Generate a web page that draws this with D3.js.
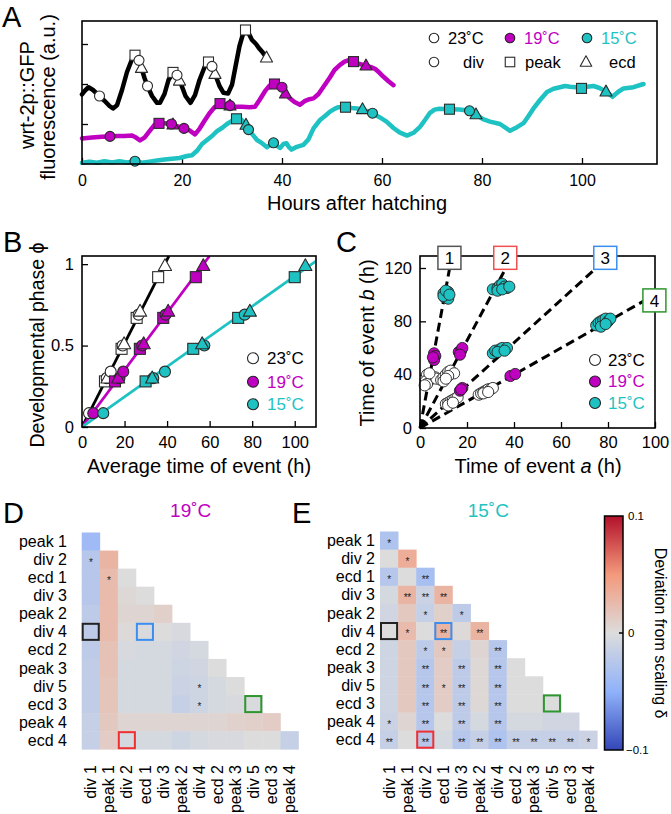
<!DOCTYPE html>
<html><head><meta charset="utf-8">
<script src="https://cdn.jsdelivr.net/npm/d3@7"></script>
<style>
body{margin:0;background:#fff;}
svg{font-family:"Liberation Sans", Arial, Helvetica, sans-serif;}
</style></head><body>
<svg id="fig" width="671" height="814"></svg>
<script>
// ================= DATA =================
const events = ["div 1","peak 1","div 2","ecd 1","div 3","peak 2","div 4","ecd 2","peak 3","div 5","ecd 3","peak 4","ecd 4"];
const temps = ["23˚C","19˚C","15˚C"];

// Panel A traces [hours, fluorescence a.u.]
const trace23 = [[0,1.74],[0.5,1.82],[1.3,1.92],[2.2,1.85],[3.5,1.7],[4.5,1.58],[5.5,1.45],[6.2,1.39],[7,1.47],[8,1.85],[9,2.3],[10,2.62],[10.6,2.72],[11.3,2.63],[11.9,2.4],[12.5,2.15],[13.1,1.95],[14,1.7],[15,1.53],[15.6,1.53],[16.5,1.75],[17.3,2.1],[18.2,2.29],[19,2.22],[19.8,2.0],[20.7,1.7],[21.7,1.53],[22.6,1.72],[23.5,2.1],[24.5,2.42],[25.3,2.55],[26,2.44],[26.6,2.25],[27.5,1.95],[28.3,1.78],[29.2,1.76],[30,1.98],[30.8,2.5],[31.5,2.95],[32.2,3.25],[32.7,3.35],[33.4,3.25],[34,3.1],[34.8,3.0],[35.5,2.88],[36.2,2.78],[36.9,2.66]];
const trace19 = [[0,0.64],[2,0.66],[4,0.68],[5.6,0.69],[7,0.7],[8.5,0.7],[10,0.71],[10.8,0.66],[11.6,0.59],[12.5,0.66],[13.5,0.82],[14.5,0.98],[15.5,1.02],[16.5,1.02],[17.9,1.0],[19,0.95],[20.4,0.89],[21.5,0.84],[22.6,0.74],[23.5,0.88],[24.5,1.08],[25.5,1.27],[26.5,1.42],[27.6,1.51],[28.6,1.49],[29.6,1.46],[30.5,1.43],[32,1.43],[33.5,1.42],[34.6,1.43],[35.5,1.6],[36.6,1.82],[37.5,1.96],[38.5,2.0],[39.3,1.97],[40,1.92],[40.7,1.76],[41.5,1.65],[42.5,1.55],[43.6,1.48],[44.5,1.57],[45.5,1.62],[46.3,1.64],[47.3,1.75],[48.3,1.93],[49.5,2.15],[50.5,2.35],[51.6,2.48],[52.5,2.56],[53.5,2.6],[54.3,2.56],[55.5,2.5],[56.8,2.46],[57.8,2.42],[58.6,2.38],[59.5,2.28],[60.3,2.18],[61.3,2.07],[62.3,1.97]];
const trace15 = [[0,0.03],[1.5,0.06],[3,0.03],[4.5,0.07],[6,0.04],[7.5,0.07],[9,0.04],[10.6,0.07],[12,0.03],[13.5,0.06],[15,0.09],[16.5,0.11],[18,0.13],[19.5,0.15],[21,0.2],[22,0.22],[23,0.33],[24,0.5],[25,0.6],[26,0.7],[27,0.82],[28,0.9],[29,1.0],[30,1.08],[30.9,1.13],[31.8,1.12],[32.8,0.98],[33.3,0.86],[34.2,0.72],[35,0.6],[36,0.52],[37,0.42],[37.8,0.5],[38.3,0.53],[39,0.45],[39.6,0.4],[40.3,0.5],[40.9,0.52],[41.4,0.42],[41.9,0.36],[42.8,0.42],[44.3,0.48],[45.3,0.62],[46.3,0.89],[47.6,1.1],[48.6,1.2],[49.6,1.31],[50.5,1.38],[51.3,1.42],[52.7,1.42],[54,1.4],[55,1.39],[56.1,1.37],[57,1.32],[58.1,1.27],[59.5,1.17],[60.9,1.06],[62.3,0.9],[63.5,0.79],[65,0.71],[66.3,0.78],[67.6,0.93],[68.6,1.1],[69.6,1.28],[70.5,1.36],[71.5,1.38],[73.5,1.37],[75.5,1.36],[77.5,1.33],[78.8,1.24],[80.2,1.12],[81.6,1.06],[83.6,1.0],[85.6,0.83],[87,0.92],[88.3,1.02],[89.3,1.2],[90.3,1.39],[91.6,1.6],[93,1.8],[94.3,1.88],[95.6,1.92],[96.6,1.95],[97.6,1.93],[98.8,1.92],[99.9,1.89],[101,1.93],[102.3,1.95],[103.5,1.9],[104.8,1.81],[106.1,1.68],[107.2,1.8],[108.3,1.89],[110.3,1.92],[112.3,2.0]];
// Panel A event times (h), in order of `events`
const markA23 = [3.5,10.6,11.4,11.9,13.1,18.2,19.0,19.5,25.3,26.0,26.6,32.7,36.9];
const markA19 = [5.6,15.4,17.9,18.2,20.4,27.6,29.6,29.6,38.5,40.0,40.7,54.3,56.8];
const markA15 = [10.6,30.9,33.3,32.8,38.3,52.7,58.1,56.1,73.5,77.5,78.8,99.9,104.8];

// Panel B: developmental phase of each event and average event times
const phase = [0.085,0.28,0.30,0.30,0.34,0.48,0.50,0.51,0.67,0.69,0.71,0.92,0.99];
const avgT23 = [3.3,10.8,11.6,12.0,13.5,18.6,19.1,19.8,25.7,26.6,27.3,35.8,39.0];
const avgT19 = [5.3,15.5,17.6,17.0,19.4,27.2,28.3,29.0,38.2,39.3,40.5,53.5,57.0];
const avgT15 = [10.0,29.9,33.5,33.0,39.0,52.3,57.5,56.5,73.4,76.5,78.9,100.0,105.0];
const fitPeriod = [38.9,57.1,108];

// Panel C: pairs [time a, time b]
const c23 = [[3,40],[4,38],[5,37],[6.5,38],[2.5,35],[3,33],[2,32],[7,37],[4,41],[9,36],[10,38],[11,40],[12,42],[13,43],[14.5,41],[10,35],[12,39],[11,37],[11,18],[12,19],[13,20],[14,21],[15,22],[16,23],[12,17],[14,19],[25,25],[26,26],[27,27],[28,28],[29,29],[30,29],[31,30],[27,26],[29,27]];
const c19 = [[6,56],[6.5,54],[6,51],[5.5,53],[16.5,57],[17.5,58],[18,60],[17,55],[17,28],[18,30],[17.5,29],[38.5,39],[40.5,40.5]];
const c15 = [[10,101],[11,100],[12,102],[10.5,98],[11.5,99],[12,97],[10,99],[11,103],[12.5,100],[31,104],[33,105],[34,107],[35,108],[36,106],[37,105],[33,103],[35,104],[38,106],[31,56],[32,58],[34,59],[35,60],[37,60],[33,57],[36,58],[75,77],[76,79],[77,80],[78,81],[79,82],[80,80],[81,82],[77,76],[79,78]];
const cSlopes = [9.5,3.28,1.6,1.0];
const cLabels = ["1","2","3","4"];

// Panels D/E: deviation from scaling (rows: events[1..12], cols: events[0..11])
const devD = [
 [-0.04],
 [-0.025,0.03],
 [-0.025,0.025,0.0],
 [-0.025,0.025,0.003,0.0],
 [-0.02,0.025,0.005,0.005,0.01],
 [-0.02,0.025,0.002,-0.002,0.0,-0.003],
 [-0.02,0.02,-0.003,-0.005,-0.005,-0.008,-0.005],
 [-0.018,0.02,-0.005,-0.005,-0.005,-0.01,-0.008,0.0],
 [-0.018,0.018,-0.005,-0.005,-0.005,-0.012,-0.01,-0.005,0.0],
 [-0.018,0.018,-0.005,-0.005,-0.005,-0.015,-0.01,-0.005,-0.003,-0.002],
 [-0.015,0.015,0.005,0.005,0.005,0.005,0.005,0.005,0.008,0.01,0.012],
 [-0.015,0.012,-0.005,-0.005,-0.005,-0.01,-0.005,-0.003,-0.003,0.0,0.0,-0.015]];
const starD = [
 [""],["*",""],["","*",""],["","","",""],["","","","",""],["","","","","",""],
 ["","","","","","",""],["","","","","","","",""],["","","","","","","*","",""],
 ["","","","","","","*","","",""],["","","","","","","","","","",""],
 ["","","","","","","","","","","",""]];
const devE = [
 [-0.03],
 [0.0,0.035],
 [-0.025,0.0,-0.035],
 [-0.005,0.03,-0.012,0.03],
 [-0.008,0.015,-0.015,0.01,-0.02],
 [0.0,0.025,0.0,0.03,0.002,0.03],
 [-0.01,0.015,-0.02,0.015,-0.015,0.005,-0.025],
 [-0.01,0.015,-0.025,0.012,-0.02,0.003,-0.025,0.0],
 [-0.01,0.015,-0.025,0.012,-0.02,0.003,-0.025,0.0,0.0],
 [-0.01,0.015,-0.025,0.012,-0.02,0.003,-0.025,0.0,0.0,0.0],
 [-0.012,0.005,-0.025,0.0,-0.02,-0.005,-0.025,-0.005,-0.005,-0.008,-0.008],
 [-0.015,0.0,-0.025,-0.005,-0.025,-0.015,-0.03,-0.015,-0.015,-0.015,-0.015,-0.012]];
const starE = [
 ["*"],["","*"],["*","","**"],["","**","**","**"],["","","*","","*"],["","*","","**","","**"],
 ["","","*","*","","","**"],["","","**","","**","","**",""],["","","**","*","**","","**","",""],
 ["","","**","","**","","**","","",""],["*","","**","","**","","**","","","",""],
 ["**","","**","","**","**","**","**","**","**","**","*"]];
const highlights = [["div 4","div 1","#222222"],["div 4","ecd 1","#3a8ef0"],["ecd 3","div 5","#2e962e"],["ecd 4","div 2","#f03030"]];
const cbTicks = [0.1,0,-0.1];

// ================= DRAW =================
const svg = d3.select("#fig");
const MAG = "#c000c0", CYA = "#1fc2c2";
const tempFill = ["#ffffff", MAG, CYA];
const tempText = ["#000000", MAG, CYA];
const typeOf = e => e.split(" ")[0];

function marker(g, type, cx, cy, fill, s, sw){
  const st = "#2a2a2a";
  if(type==="div") g.append("circle").attr("cx",cx).attr("cy",cy).attr("r",s/2).attr("fill",fill).attr("stroke",st).attr("stroke-width",sw);
  else if(type==="peak") g.append("rect").attr("x",cx-s/2).attr("y",cy-s/2).attr("width",s).attr("height",s).attr("fill",fill).attr("stroke",st).attr("stroke-width",sw);
  else { const h=s*0.95, w=s*1.1;
    g.append("path").attr("d",`M${cx},${cy-h*0.62}L${cx+w/2},${cy+h*0.42}L${cx-w/2},${cy+h*0.42}Z`).attr("fill",fill).attr("stroke",st).attr("stroke-width",sw).attr("stroke-linejoin","round"); }
}
function styleAxis(sel, fs){
  sel.select(".domain").remove();
  sel.selectAll(".tick line").attr("stroke","#000").attr("stroke-width",1.3);
  sel.selectAll(".tick text").attr("font-size",fs).attr("fill","#000").attr("font-family",'"Liberation Sans", Arial, sans-serif');
}
function frame(box){
  svg.append("rect").attr("x",box.l).attr("y",box.t).attr("width",box.r-box.l).attr("height",box.b-box.t).attr("fill","none").attr("stroke","#000").attr("stroke-width",1.6);
}
function letter(t,x,y){ svg.append("text").attr("x",x).attr("y",y).attr("font-size",29).text(t); }

// ---------- Panel A ----------
const A = {l:82,r:657,t:21,b:164};
const xA = d3.scaleLinear().domain([0,115]).range([A.l,A.r]);
const yA = d3.scaleLinear().domain([0,3.575]).range([A.b,A.t]);
svg.append("g").attr("transform",`translate(0,${A.b})`)
  .call(d3.axisBottom(xA).tickValues([0,20,40,60,80,100]).tickSize(-6).tickPadding(11)).call(s=>styleAxis(s,16));
svg.append("g").attr("transform",`translate(${A.l},0)`)
  .call(d3.axisLeft(yA).tickValues([1,2,3]).tickSize(-6).tickFormat("")).call(s=>styleAxis(s,16));
const lineA = d3.line().x(d=>xA(d[0])).y(d=>yA(d[1]));
const tracesA = [trace23, trace19, trace15];
const marksA = [markA23, markA19, markA15];
const traceCol = ["#000000", MAG, CYA];
[2,1,0].forEach(k=>{
  svg.append("path").datum(tracesA[k]).attr("d",lineA).attr("fill","none").attr("stroke",traceCol[k])
    .attr("stroke-width",4.5).attr("stroke-linejoin","round").attr("stroke-linecap","round");
});
function interp(tr,t){
  for(let i=1;i<tr.length;i++){ if(tr[i][0]>=t){ const a=tr[i-1],b=tr[i]; return a[1]+(b[1]-a[1])*(t-a[0])/(b[0]-a[0]); } }
  return tr[tr.length-1][1];
}
const gA = svg.append("g");
const drawOrder = ["ecd","peak","div"];
[0,1,2].forEach(k=>{
  drawOrder.forEach(tp=>{
    events.forEach((e,i)=>{ if(typeOf(e)!==tp) return;
      const t = marksA[k][i];
      marker(gA, tp, xA(t), yA(interp(tracesA[k],t)), tempFill[k], tp==="ecd"?11:10, 1.1);
    });
  });
});
frame(A);
// legend A
const legA = svg.append("g").attr("font-size",16.5);
[[434,"23˚C","#fff","#000"],[510,"19˚C",MAG,MAG],[587,"15˚C",CYA,CYA]].forEach(([x,t,f,c])=>{
  legA.append("circle").attr("cx",x).attr("cy",38).attr("r",4.8).attr("fill",f).attr("stroke","#222").attr("stroke-width",1.1);
  legA.append("text").attr("x",x+14).attr("y",38).attr("dy","0.35em").attr("fill",c).text(t);
});
[[434,"div","div",463],[510,"peak","peak",525],[586,"ecd","ecd",609]].forEach(([x,tp,t,tx])=>{
  marker(legA, tp, x, 62, "#fff", tp==="ecd"?10.5:9.5, 1.1);
  legA.append("text").attr("x",tx).attr("y",62).attr("dy","0.35em").text(t);
});
svg.append("text").attr("x",357).attr("y",210).attr("text-anchor","middle").attr("font-size",20).text("Hours after hatching");
svg.append("text").attr("transform","translate(27,95) rotate(-90)").attr("text-anchor","middle").attr("dy","0.35em").attr("font-size",20).text("wrt-2p::GFP");
svg.append("text").attr("transform","translate(48,97) rotate(-90)").attr("text-anchor","middle").attr("dy","0.35em").attr("font-size",20).text("fluorescence (a.u.)");
letter("A",2,27);

// ---------- Panel B ----------
const B = {l:82,r:316,t:256,b:427};
const xB = d3.scaleLinear().domain([0,110]).range([B.l,B.r]);
const yB = d3.scaleLinear().domain([0,1.05]).range([B.b,B.t]);
svg.append("g").attr("transform",`translate(0,${B.b})`)
  .call(d3.axisBottom(xB).tickValues([0,20,40,60,80,100]).tickSize(-6).tickPadding(9)).call(s=>styleAxis(s,16.5));
svg.append("g").attr("transform",`translate(${B.l},0)`)
  .call(d3.axisLeft(yB).tickValues([0,0.5,1]).tickSize(-6).tickPadding(8).tickFormat(d=>d===0?"0":d===1?"1":"0.5")).call(s=>styleAxis(s,16.5));
const clipB = svg.append("clipPath").attr("id","clipB").append("rect").attr("x",B.l).attr("y",B.t).attr("width",B.r-B.l).attr("height",B.b-B.t);
const gB = svg.append("g").attr("clip-path","url(#clipB)");
fitPeriod.forEach((T,k)=>{
  const tEnd = Math.min(110, 1.05*T);
  gB.append("path").datum([[0,0],[tEnd,tEnd/T]]).attr("d",d3.line().x(d=>xB(d[0])).y(d=>yB(d[1])))
    .attr("stroke",traceCol[k]).attr("stroke-width",2.8).attr("fill","none");
});
const avgT = [avgT23, avgT19, avgT15];
const gBm = svg.append("g");
[0,1,2].forEach(k=>{
  events.forEach((e,i)=>{
    const tp = typeOf(e);
    marker(gBm, tp, xB(avgT[k][i]), yB(phase[i]), tempFill[k], tp==="ecd"?12:11, 1.1);
  });
});
frame(B);
const legB = svg.append("g").attr("font-size",17);
[358.3,381.7,404.3].forEach((y,k)=>{
  legB.append("circle").attr("cx",253).attr("cy",y).attr("r",5.5).attr("fill",tempFill[k]).attr("stroke","#222").attr("stroke-width",1.1);
  legB.append("text").attr("x",267).attr("y",y).attr("dy","0.35em").attr("fill",tempText[k]).text(temps[k]);
});
svg.append("text").attr("x",199).attr("y",473).attr("text-anchor","middle").attr("font-size",20).text("Average time of event (h)");
svg.append("text").attr("transform","translate(37,345) rotate(-90)").attr("text-anchor","middle").attr("dy","0.35em").attr("font-size",19.5).text("Developmental phase ϕ");
letter("B",3,252);

// ---------- Panel C ----------
const C = {l:420,r:655,t:256,b:428};
const xC = d3.scaleLinear().domain([0,100]).range([C.l,C.r]);
const yC = d3.scaleLinear().domain([0,129]).range([C.b,C.t]);
svg.append("g").attr("transform",`translate(0,${C.b})`)
  .call(d3.axisBottom(xC).tickValues([0,20,40,60,80,100]).tickSize(-6).tickPadding(8)).call(s=>styleAxis(s,16.5));
svg.append("g").attr("transform",`translate(${C.l},0)`)
  .call(d3.axisLeft(yC).tickValues([0,40,80,120]).tickSize(-6).tickPadding(8)).call(s=>styleAxis(s,16.5));
const labCol = ["#555555","#f05050","#3a8ef0","#2e962e"];
const gC = svg.append("g");
const lineEnds = cSlopes.map(s=>{ const bMax=119, aMax=95.7; return (s*aMax>bMax)?[bMax/s,bMax]:[aMax,s*aMax]; });
cSlopes.forEach((s,k)=>{
  gC.append("path").datum([[0,0],lineEnds[k]]).attr("d",d3.line().x(d=>xC(d[0])).y(d=>yC(d[1])))
    .attr("stroke","#000").attr("stroke-width",3).attr("stroke-dasharray","9,5").attr("fill","none");
});
const cData = [c23, c19, c15];
[0,1,2].forEach(k=>{
  gC.selectAll(null).data(cData[k]).enter().append("circle")
    .attr("cx",d=>xC(d[0])).attr("cy",d=>yC(d[1])).attr("r",5.6)
    .attr("fill",tempFill[k]).attr("stroke","#222").attr("stroke-width",0.9);
});
frame(C);
cLabels.forEach((lab,k)=>{
  const e = lineEnds[k]; const px = xC(e[0]), py = yC(e[1]); const bs = 23;
  let cx, cy;
  if(k<2){ cx = px; cy = py - bs/2; }
  else if(k===2){ cx = px + bs/2 - 1; cy = py - bs/2; }
  else { cx = px - 2 + bs/2; cy = py; }
  svg.append("rect").attr("x",cx-bs/2).attr("y",cy-bs/2).attr("width",bs).attr("height",bs).attr("fill","#fff").attr("stroke",labCol[k]).attr("stroke-width",1.5);
  svg.append("text").attr("x",cx).attr("y",cy).attr("dy","0.36em").attr("text-anchor","middle").attr("font-size",17).text(lab);
});
const legC = svg.append("g").attr("font-size",17);
[360,381.5,403].forEach((y,k)=>{
  legC.append("circle").attr("cx",595).attr("cy",y).attr("r",5.5).attr("fill",tempFill[k]).attr("stroke","#222").attr("stroke-width",1.1);
  legC.append("text").attr("x",608).attr("y",y).attr("dy","0.35em").attr("fill",tempText[k]).text(temps[k]);
});
const xlC = svg.append("text").attr("x",538).attr("y",473).attr("text-anchor","middle").attr("font-size",20);
xlC.append("tspan").text("Time of event ");
xlC.append("tspan").attr("font-style","italic").text("a");
xlC.append("tspan").text(" (h)");
const ylC = svg.append("text").attr("transform","translate(367,343) rotate(-90)").attr("text-anchor","middle").attr("dy","0.35em").attr("font-size",20);
ylC.append("tspan").text("Time of event ");
ylC.append("tspan").attr("font-style","italic").text("b");
ylC.append("tspan").text(" (h)");
letter("C",336,252);

// ---------- Panels D / E ----------
const color = d3.scaleLinear().domain([-0.1,-0.05,0,0.05,0.1])
  .range(["#3446b8","#90b2fa","#dcdcdc","#f4997c","#b2112a"]).interpolate(d3.interpolateRgb).clamp(true);
const rowLabels = events.slice(1), colLabels = events.slice(0,12);
function heat(x0,y0,cs,vals,stars,labRight,title,tcol,tx){
  const xb = d3.scaleBand().domain(colLabels).range([x0,x0+12*cs]);
  const yb = d3.scaleBand().domain(rowLabels).range([y0,y0+12*cs]);
  const g = svg.append("g");
  const cells = [];
  vals.forEach((row,r)=>row.forEach((v,c)=>cells.push({r:rowLabels[r],c:colLabels[c],v:v,s:stars[r][c]})));
  g.selectAll(null).data(cells).enter().append("rect")
    .attr("x",d=>xb(d.c)).attr("y",d=>yb(d.r)).attr("width",xb.bandwidth()+0.4).attr("height",yb.bandwidth()+0.4)
    .attr("fill",d=>color(d.v));
  g.selectAll(null).data(cells.filter(d=>d.s)).enter().append("text")
    .attr("x",d=>xb(d.c)+xb.bandwidth()/2).attr("y",d=>yb(d.r)+yb.bandwidth()/2).attr("dy","0.62em")
    .attr("text-anchor","middle").attr("font-size",10).attr("fill","#222").attr("letter-spacing",-0.5).text(d=>d.s);
  highlights.forEach(([r,c,col])=>{
    g.append("rect").attr("x",xb(c)+1).attr("y",yb(r)+1).attr("width",xb.bandwidth()-2).attr("height",yb.bandwidth()-2)
      .attr("fill","none").attr("stroke",col).attr("stroke-width",2);
  });
  g.selectAll(null).data(rowLabels).enter().append("text")
    .attr("x",labRight).attr("y",d=>yb(d)+yb.bandwidth()/2).attr("dy","0.35em").attr("text-anchor","end").attr("font-size",16).text(d=>d);
  g.selectAll(null).data(colLabels).enter().append("text")
    .attr("transform",d=>`translate(${xb(d)+xb.bandwidth()/2},765) rotate(-90)`).attr("dy","0.35em").attr("text-anchor","end").attr("font-size",16).text(d=>d);
  svg.append("text").attr("x",tx).attr("y",517).attr("text-anchor","middle").attr("font-size",19).attr("fill",tcol).text(title);
}
heat(81.7,532.5,18.06,devD,starD,67,"19˚C",MAG,190.7);
heat(380,531.5,18.1,devE,starE,375,"15˚C",CYA,488.3);
letter("D",3,523);
letter("E",292,523);

// colorbar
const cb = {l:604.5,r:623,t:516,b:750};
const yCb = d3.scaleLinear().domain([-0.1,0.1]).range([cb.b,cb.t]);
const grad = svg.append("defs").append("linearGradient").attr("id","cbg").attr("x1",0).attr("y1",1).attr("x2",0).attr("y2",0);
d3.range(0,1.0001,0.05).forEach(f=>grad.append("stop").attr("offset",f).attr("stop-color",color(-0.1+0.2*f)));
svg.append("rect").attr("x",cb.l).attr("y",cb.t).attr("width",cb.r-cb.l).attr("height",cb.b-cb.t).attr("fill","url(#cbg)").attr("stroke","#000").attr("stroke-width",1.5);
svg.append("line").attr("x1",cb.r-4).attr("x2",cb.r).attr("y1",yCb(0)).attr("y2",yCb(0)).attr("stroke","#000").attr("stroke-width",1.5);
svg.selectAll(null).data(cbTicks).enter().append("text")
  .attr("x",d=>d<0?626:628).attr("y",d=>yCb(d)).attr("dy","0.35em").attr("font-size",11.5)
  .text(d=>d===0?"0":(d<0?"−0.1":"0.1"));
svg.append("text").attr("transform","translate(661,633) rotate(90)").attr("text-anchor","middle").attr("dy","0.35em").attr("font-size",16).text("Deviation from scaling δ");
</script>
</body></html>
